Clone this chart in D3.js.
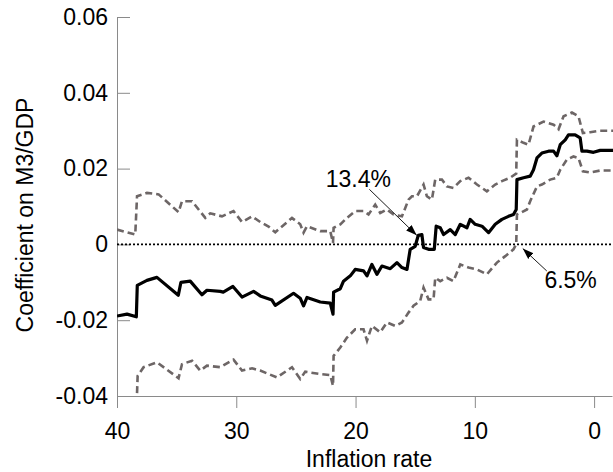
<!DOCTYPE html>
<html>
<head>
<meta charset="utf-8">
<script src="https://cdn.jsdelivr.net/npm/d3@7/dist/d3.min.js"></script>
<style>
  html, body { margin: 0; padding: 0; background: #fff; }
  svg { display: block; font-family: "Liberation Sans", Arial, Helvetica, sans-serif; }
</style>
</head>
<body>
<svg id="chart" width="613" height="472"></svg>
<script>
// ---- data ----
const estInfl = [40.00, 39.16, 38.38, 38.30, 37.49, 36.65, 34.86, 34.64, 33.86, 32.88, 32.46, 31.34, 31.09, 30.28, 29.52, 28.55, 27.99, 27.01, 26.73, 25.20, 24.64, 24.36, 24.07, 22.96, 22.12, 21.89, 21.84, 21.28, 21.01, 20.44, 20.03, 19.33, 19.04, 18.63, 18.21, 17.79, 17.09, 16.53, 16.11, 15.69, 15.42, 15.00, 14.74, 14.44, 14.30, 13.88, 13.40, 13.24, 12.90, 12.62, 12.06, 11.64, 11.22, 10.66, 10.39, 9.97, 9.40, 8.85, 8.29, 7.73, 7.18, 6.76, 6.53, 6.47, 5.92, 5.36, 5.08, 4.79, 4.38, 3.82, 3.40, 3.12, 2.84, 2.42, 2.15, 1.59, 1.17, 1.02, 0.60, 0.05, -0.51, -1.60];
const estCoef = [-0.0189, -0.0184, -0.0191, -0.0108, -0.0095, -0.0087, -0.0134, -0.0100, -0.0097, -0.0133, -0.0121, -0.0124, -0.0126, -0.0111, -0.0139, -0.0124, -0.0136, -0.0147, -0.0161, -0.0129, -0.0142, -0.0162, -0.0140, -0.0152, -0.0155, -0.0184, -0.0126, -0.0117, -0.0097, -0.0083, -0.0066, -0.0070, -0.0083, -0.0053, -0.0079, -0.0057, -0.0064, -0.0048, -0.0061, -0.0066, -0.0013, -0.0005, 0.0024, 0.0026, -0.0008, -0.0013, -0.0013, 0.0048, 0.0044, 0.0026, 0.0039, 0.0026, 0.0053, 0.0044, 0.0066, 0.0053, 0.0048, 0.0031, 0.0053, 0.0066, 0.0074, 0.0079, 0.0092, 0.0171, 0.0176, 0.0180, 0.0197, 0.0228, 0.0241, 0.0246, 0.0246, 0.0234, 0.0263, 0.0276, 0.0289, 0.0289, 0.0281, 0.0246, 0.0246, 0.0243, 0.0248, 0.0248];

const upInfl = [40.00, 38.47, 38.32, 37.49, 36.51, 34.84, 34.55, 33.71, 32.60, 32.18, 31.20, 30.23, 29.52, 28.68, 27.99, 27.29, 26.73, 25.33, 24.64, 24.36, 24.07, 22.96, 22.12, 21.89, 21.84, 21.28, 20.72, 20.03, 19.33, 18.91, 18.35, 17.93, 17.37, 16.81, 16.11, 15.56, 15.27, 14.85, 14.30, 14.02, 13.60, 13.32, 12.76, 12.34, 11.79, 11.22, 10.53, 9.82, 8.99, 8.29, 7.73, 7.03, 6.53, 6.47, 5.92, 5.50, 5.08, 4.24, 3.40, 2.98, 2.56, 1.86, 1.31, 0.94, 0.33, -0.51, -1.60];
const upCoef = [0.0039, 0.0026, 0.0127, 0.0136, 0.0132, 0.0085, 0.0114, 0.0114, 0.0070, 0.0082, 0.0074, 0.0088, 0.0059, 0.0074, 0.0059, 0.0047, 0.0032, 0.0070, 0.0053, 0.0031, 0.0048, 0.0035, 0.0035, 0.0004, 0.0044, 0.0053, 0.0070, 0.0088, 0.0088, 0.0079, 0.0105, 0.0083, 0.0092, 0.0079, 0.0074, 0.0118, 0.0127, 0.0127, 0.0158, 0.0127, 0.0118, 0.0171, 0.0171, 0.0153, 0.0149, 0.0167, 0.0176, 0.0158, 0.0140, 0.0158, 0.0167, 0.0176, 0.0187, 0.0276, 0.0268, 0.0263, 0.0311, 0.0324, 0.0316, 0.0304, 0.0338, 0.0348, 0.0338, 0.0294, 0.0296, 0.0300, 0.0300];

const loInfl = [40.00, 38.47, 38.38, 38.27, 37.77, 36.65, 34.84, 34.55, 33.71, 33.02, 32.46, 31.34, 30.23, 29.52, 28.68, 27.99, 27.29, 26.59, 25.33, 24.64, 24.22, 22.96, 22.12, 21.89, 21.84, 21.28, 20.72, 20.03, 19.33, 19.04, 18.63, 17.93, 17.37, 16.67, 16.11, 15.56, 15.14, 14.58, 14.30, 13.88, 13.46, 13.32, 12.90, 12.34, 11.79, 11.22, 10.53, 9.82, 8.99, 8.15, 7.45, 6.76, 6.53, 6.47, 6.19, 5.63, 5.36, 4.79, 4.38, 3.68, 3.12, 2.84, 2.28, 1.73, 1.31, 0.94, 0.33, -0.51, -1.60];
const loCoef = [-0.0434, -0.0434, -0.0447, -0.0347, -0.0324, -0.0311, -0.0353, -0.0316, -0.0307, -0.0333, -0.0320, -0.0324, -0.0304, -0.0333, -0.0327, -0.0333, -0.0342, -0.0351, -0.0324, -0.0355, -0.0336, -0.0342, -0.0345, -0.0373, -0.0294, -0.0272, -0.0246, -0.0224, -0.0224, -0.0254, -0.0215, -0.0232, -0.0206, -0.0215, -0.0206, -0.0180, -0.0162, -0.0149, -0.0114, -0.0145, -0.0145, -0.0088, -0.0097, -0.0088, -0.0097, -0.0053, -0.0061, -0.0066, -0.0079, -0.0048, -0.0031, -0.0013, 0.0000, 0.0079, 0.0083, 0.0092, 0.0114, 0.0153, 0.0158, 0.0171, 0.0176, 0.0197, 0.0224, 0.0232, 0.0228, 0.0193, 0.0190, 0.0195, 0.0195];

const xTicks = [40, 30, 20, 10, 0];
const xTickLabels = ["40", "30", "20", "10", "0"];
const yTicks = [0.06, 0.04, 0.02, 0, -0.02, -0.04];
const yTickLabels = ["0.06", "0.04", "0.02", "0", "-0.02", "-0.04"];

const annLabels = ["13.4%", "6.5%"];
const annInfl = [14.87, 5.98];
const annCoef = [0.0024, -0.0011];

const xTitle = "Inflation rate";
const yTitle = "Coefficient on M3/GDP";

// ---- layout ----
const svg = d3.select("#chart");
const mLeft = 117, mRight = 612, mTop = 17, mBottom = 396;
const x = d3.scaleLinear().domain([40, -1.5]).range([mLeft, mRight]);
const y = d3.scaleLinear().domain([-0.04, 0.06]).range([mBottom, mTop]);
const axisColor = "#8a8a8a";
const fontSize = 23;

const defs = svg.append("defs");
defs.append("clipPath").attr("id", "plotclip")
  .append("rect").attr("x", mLeft).attr("y", mTop).attr("width", 613 - mLeft).attr("height", mBottom - mTop);

defs.append("marker")
  .attr("id", "arrow").attr("viewBox", "0 0 10 10").attr("refX", 10).attr("refY", 5)
  .attr("markerWidth", 11).attr("markerHeight", 11).attr("markerUnits", "userSpaceOnUse")
  .attr("orient", "auto")
  .append("path").attr("d", "M0,1.5 L10,5 L0,8.5 Z").attr("fill", "#000");

// y axis
const yAxis = d3.axisLeft(y).tickValues(yTicks)
  .tickFormat((d, i) => yTickLabels[i]).tickSizeInner(-13).tickSizeOuter(0).tickPadding(9);
const gy = svg.append("g").attr("transform", `translate(${mLeft},0)`).call(yAxis);
gy.select(".domain").attr("stroke", axisColor);
gy.selectAll(".tick line").attr("stroke", axisColor);
gy.selectAll(".tick text").attr("fill", "#000").attr("font-size", fontSize)
  .attr("font-family", "Liberation Sans, Arial, sans-serif");

// x axis
const xAxis = d3.axisBottom(x).tickValues(xTicks)
  .tickFormat((d, i) => xTickLabels[i]).tickSizeInner(12).tickSizeOuter(0).tickPadding(15);
const gx = svg.append("g").attr("transform", `translate(0,${mBottom})`).call(xAxis);
gx.select(".domain").attr("stroke", axisColor);
gx.selectAll(".tick line").attr("stroke", axisColor);
gx.selectAll(".tick text").attr("fill", "#000").attr("font-size", fontSize)
  .attr("font-family", "Liberation Sans, Arial, sans-serif");

// titles
svg.append("text").attr("x", 369).attr("y", 467)
  .attr("text-anchor", "middle").attr("font-size", fontSize).attr("fill", "#000").text(xTitle);
svg.append("text").attr("transform", `translate(33,215) rotate(-90)`)
  .attr("text-anchor", "middle").attr("font-size", fontSize).attr("fill", "#000").text(yTitle);

// zero line
svg.append("line").attr("x1", mLeft).attr("x2", 613).attr("y1", y(0)).attr("y2", y(0))
  .attr("stroke", "#000").attr("stroke-width", 1.6).attr("stroke-dasharray", "2,2");

const plot = svg.append("g").attr("clip-path", "url(#plotclip)");
const line = d3.line().x(d => x(d[0])).y(d => y(d[1]));
const zip = (a, b) => a.map((v, i) => [v, b[i]]);

const bandColor = "#6d6666";
plot.append("path").datum(zip(upInfl, upCoef)).attr("d", line)
  .attr("fill", "none").attr("stroke", bandColor).attr("stroke-width", 2.6)
  .attr("stroke-dasharray", "7,4");
plot.append("path").datum(zip(loInfl, loCoef)).attr("d", line)
  .attr("fill", "none").attr("stroke", bandColor).attr("stroke-width", 2.6)
  .attr("stroke-dasharray", "7,4");
plot.append("path").datum(zip(estInfl, estCoef)).attr("d", line)
  .attr("fill", "none").attr("stroke", "#000").attr("stroke-width", 3.2)
  .attr("stroke-linejoin", "round");

// annotations
const annOffsets = [
  { sx: -47.4, sy: -46, tx: -91, ty: -48 },
  { sx: 24, sy: 22.4, tx: 21.6, ty: 39 }
];
annLabels.forEach((lab, i) => {
  const px = x(annInfl[i]), py = y(annCoef[i]);
  const o = annOffsets[i];
  svg.append("line").attr("x1", px + o.sx).attr("y1", py + o.sy).attr("x2", px).attr("y2", py)
    .attr("stroke", "#000").attr("stroke-width", 0.9).attr("marker-end", "url(#arrow)");
  svg.append("text").attr("x", px + o.tx).attr("y", py + o.ty)
    .attr("font-size", fontSize).attr("fill", "#000").text(lab);
});
</script>
</body>
</html>
